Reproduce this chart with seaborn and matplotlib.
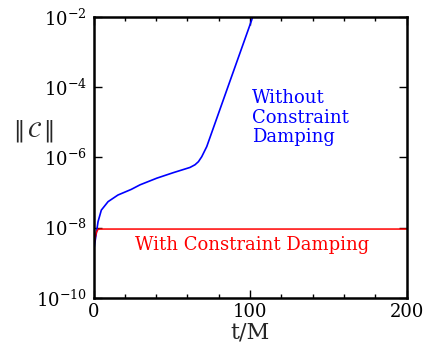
import matplotlib
matplotlib.use("Agg")
import matplotlib.pyplot as plt
import matplotlib.ticker as mticker
import seaborn as sns
import pandas as pd

# values (t/M, ||C||)
t_without = [0, 0.8, 1.8, 2.9, 5.0, 9.3, 15.6, 24.1, 29.7, 40.4, 51, 61.6, 64.8, 67, 69.1, 72.3, 87, 101, 102]
c_without = [2.0e-9, 3.5e-9, 6.9e-9, 1.48e-8, 3.16e-8, 5.5e-8, 8.5e-8, 1.23e-7, 1.66e-7, 2.57e-7, 3.7e-7,
             5.2e-7, 6.2e-7, 7.6e-7, 1.05e-6, 2.04e-6, 1.45e-4, 8.3e-3, 1.2e-2]

t_with = [0, 1, 2, 2.9, 4, 200]
c_with = [2.9e-9, 5.0e-9, 7.6e-9, 8.9e-9, 9.1e-9, 9.1e-9]

y_ticks = [1e-10, 1e-8, 1e-6, 1e-4, 1e-2]
x_ticks = [0, 100, 200]

df_without = pd.DataFrame({"t": t_without, "C": c_without})
df_with = pd.DataFrame({"t": t_with, "C": c_with})

sns.set_style("ticks")
plt.rcParams["font.family"] = ["DejaVu Serif"]
plt.rcParams["mathtext.fontset"] = "dejavuserif"

fig = plt.figure(figsize=(4.25, 3.45), dpi=100)
ax = fig.add_axes([0.22, 0.137, 0.737, 0.813])

sns.lineplot(data=df_without, x="t", y="C", color="#0000ff", lw=1.2, estimator=None, sort=False, ax=ax)
sns.lineplot(data=df_with, x="t", y="C", color="#ff0000", lw=1.1, estimator=None, sort=False, ax=ax)

ax.set_yscale("log")
ax.set_xlim(0, 200)
ax.set_ylim(1e-10, 1e-2)
ax.set_yticks(y_ticks)
ax.yaxis.set_minor_locator(mticker.NullLocator())
ax.set_xticks(x_ticks)
ax.xaxis.set_minor_locator(mticker.MultipleLocator(20))

ax.tick_params(which="both", direction="in", top=True, right=True, width=1.0, labelsize=13, colors="black")
ax.tick_params(which="major", length=6)
ax.tick_params(which="minor", length=3)
ax.tick_params(axis="x", pad=4)
ax.tick_params(axis="y", pad=5)
for s in ax.spines.values():
    s.set_linewidth(1.8)
    s.set_color("black")
    s.set_visible(True)

ax.set_xlabel("t/M", fontsize=16, labelpad=0)
ax.set_ylabel(r"$\|\,\mathcal{C}\,\|$", fontsize=16, rotation=0, va="center", ha="center")
ax.yaxis.set_label_coords(-0.193, 0.594)

ax.text(101, 1.35e-5, "Without\nConstraint\nDamping", color="#0000ff", fontsize=13,
        ha="left", va="center", linespacing=1.1)
ax.text(101.5, 3.2e-9, "With Constraint Damping", color="#ff0000", fontsize=13,
        ha="center", va="center")

fig.savefig("out.png", dpi=100)
